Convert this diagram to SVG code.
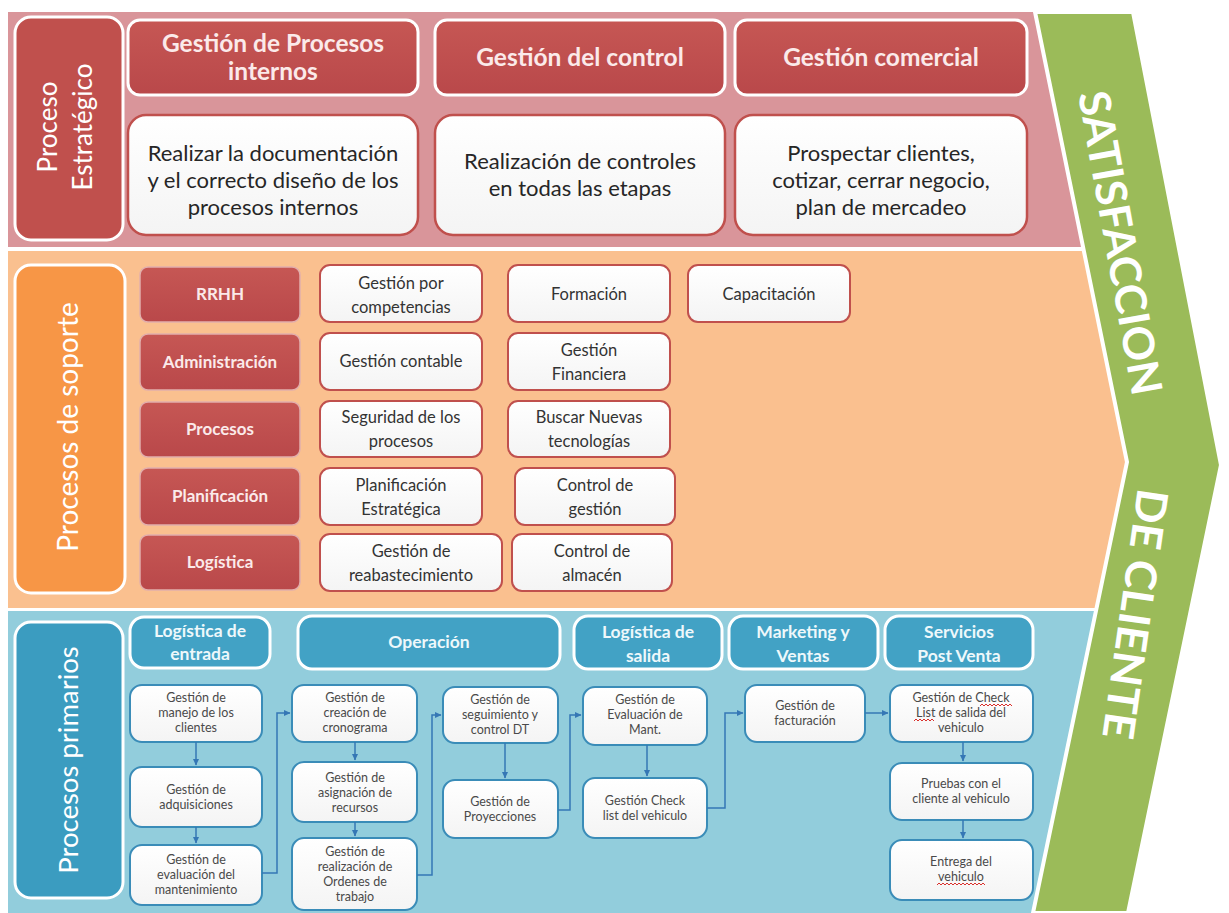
<svg xmlns="http://www.w3.org/2000/svg" width="1229" height="913" viewBox="0 0 1229 913">
  <defs>
    <linearGradient id="paper" x1="0" y1="0" x2="0" y2="1">
      <stop offset="0" stop-color="#ffffff"/>
      <stop offset="1" stop-color="#f4f4f4"/>
    </linearGradient>
    <linearGradient id="redFill" x1="0" y1="0" x2="0" y2="1">
      <stop offset="0" stop-color="#c65754"/>
      <stop offset="1" stop-color="#b9484a"/>
    </linearGradient>
    <marker id="arr" markerWidth="7" markerHeight="7" refX="6" refY="3.5" orient="auto" markerUnits="userSpaceOnUse">
      <path d="M0,0.5 L6.5,3.5 L0,6.5 Z" fill="#3577b5"/>
    </marker>
    <style>
      text { font-family: Lato, "Open Sans", "Liberation Sans", sans-serif; text-anchor: middle; }
      .sideRed { fill: #c0504d; stroke: #ffffff; stroke-width: 3; }
      .sideOrg { fill: #f79646; stroke: #ffffff; stroke-width: 3; }
      .sideBlu { fill: #3b9cc0; stroke: #ffffff; stroke-width: 3; }
      .hdrRed { fill: url(#redFill); stroke: #ffffff; stroke-width: 3; }
      .bodyRed { fill: url(#paper); stroke: #c0504d; stroke-width: 2.5; }
      .tagRed { fill: url(#redFill); stroke: #e2aeac; stroke-width: 1.5; }
      .cellRed { fill: url(#paper); stroke: #c0504d; stroke-width: 2; }
      .hdrBlu { fill: #42a2c5; stroke: #ffffff; stroke-width: 3; }
      .cellBlu { fill: url(#paper); stroke: #3a8cb8; stroke-width: 2; }
      .tHdr { font-size: 24.5px; font-weight: bold; fill: #fbeaea; }
      .tBody { font-size: 22px; fill: #262626; }
      .tTag { font-size: 17px; font-weight: bold; fill: #fbeaea; }
      .tCell { font-size: 16.5px; fill: #333333; }
      .tPh { font-size: 17.5px; font-weight: bold; fill: #eef8fb; }
      .tSm { font-size: 12.5px; fill: #4a4a4a; }
      .tSide { font-size: 26px; fill: #ffffff; }
      .tBig { font-size: 43px; font-weight: bold; fill: #ffffff; }
      .wire { fill: none; stroke: #3577b5; stroke-width: 1.5; marker-end: url(#arr); }
      .squig { fill: none; stroke: #d9302c; stroke-width: 1; }
    </style>
  </defs>

  <rect width="1229" height="913" fill="#ffffff"/>

  <!-- background bands -->
  <g id="bands">
    <polygon points="8,12 1040,12 1088,247 8,247" fill="#d9959a"/>
    <polygon points="8,251 1089,251 1130,462 1097,608 8,608" fill="#fac08f"/>
    <polygon points="8,611 1096,611 1036,913 8,913" fill="#92cddc"/>
  </g>

  <!-- customer-satisfaction chevron -->
  <g id="chevron">
    <polygon points="1035,12 1133,12 1221,465 1128,913 1033,913 1127,462" fill="#9bbb59" stroke="#ffffff" stroke-width="4" stroke-linejoin="miter"/>
    <text class="tBig" transform="translate(1120,243) rotate(79.8)" y="15" textLength="308" lengthAdjust="spacingAndGlyphs">SATISFACCION</text>
    <text class="tBig" transform="translate(1135,614) rotate(98.2)" y="15" textLength="252" lengthAdjust="spacingAndGlyphs">DE CLIENTE</text>
  </g>

  <!-- strategic processes -->
  <g id="estrategico">
    <rect class="sideRed" x="15" y="17" width="108" height="223" rx="16"/>
    <text class="tSide" transform="translate(68,127) rotate(-90)"><tspan x="0" y="-11">Proceso</tspan><tspan x="0" y="24">Estratégico</tspan></text>
  </g>
  <g id="gestion-procesos">
    <rect class="hdrRed" x="128" y="20" width="290" height="75" rx="12"/>
    <text class="tHdr"><tspan x="273" y="52">Gestión de Procesos</tspan><tspan x="273" y="80">internos</tspan></text>
  </g>
  <g id="gestion-control">
    <rect class="hdrRed" x="435" y="20" width="290" height="75" rx="12"/>
    <text class="tHdr" x="580" y="66">Gestión del control</text>
  </g>
  <g id="gestion-comercial">
    <rect class="hdrRed" x="735" y="20" width="292" height="75" rx="12"/>
    <text class="tHdr" x="881" y="66">Gestión comercial</text>
  </g>
  <g id="doc-procesos">
    <rect class="bodyRed" x="128" y="115" width="290" height="120" rx="18"/>
    <text class="tBody"><tspan x="273" y="161">Realizar la documentación</tspan><tspan x="273" y="188">y el correcto diseño de los</tspan><tspan x="273" y="215">procesos internos</tspan></text>
  </g>
  <g id="controles">
    <rect class="bodyRed" x="435" y="115" width="290" height="120" rx="18"/>
    <text class="tBody"><tspan x="580" y="169">Realización de controles</tspan><tspan x="580" y="196">en todas las etapas</tspan></text>
  </g>
  <g id="prospectar">
    <rect class="bodyRed" x="735" y="115" width="292" height="120" rx="18"/>
    <text class="tBody"><tspan x="881" y="161">Prospectar clientes,</tspan><tspan x="881" y="188">cotizar, cerrar negocio,</tspan><tspan x="881" y="215">plan de mercadeo</tspan></text>
  </g>

  <!-- support processes -->
  <g id="soporte">
    <rect class="sideOrg" x="15" y="265" width="110" height="328" rx="16"/>
    <text class="tSide" style="font-size:28px" transform="translate(68,427) rotate(-90)" x="0" y="10">Procesos de soporte</text>
  </g>
  <g id="rrhh">
    <rect class="tagRed" x="140" y="267" width="160" height="55" rx="8"/>
    <text class="tTag" x="220" y="300">RRHH</text>
  </g>
  <g id="administracion">
    <rect class="tagRed" x="140" y="334" width="160" height="56" rx="8"/>
    <text class="tTag" x="220" y="368">Administración</text>
  </g>
  <g id="procesos">
    <rect class="tagRed" x="140" y="402" width="160" height="55" rx="8"/>
    <text class="tTag" x="220" y="435">Procesos</text>
  </g>
  <g id="planificacion">
    <rect class="tagRed" x="140" y="468" width="160" height="57" rx="8"/>
    <text class="tTag" x="220" y="502">Planificación</text>
  </g>
  <g id="logistica">
    <rect class="tagRed" x="140" y="535" width="160" height="55" rx="8"/>
    <text class="tTag" x="220" y="568">Logística</text>
  </g>

  <g id="gestion-competencias">
    <rect class="cellRed" x="320" y="265" width="162" height="57" rx="10"/>
    <text class="tCell"><tspan x="401" y="289">Gestión por</tspan><tspan x="401" y="313">competencias</tspan></text>
  </g>
  <g id="formacion">
    <rect class="cellRed" x="508" y="265" width="162" height="57" rx="10"/>
    <text class="tCell" x="589" y="300">Formación</text>
  </g>
  <g id="capacitacion">
    <rect class="cellRed" x="688" y="265" width="162" height="57" rx="10"/>
    <text class="tCell" x="769" y="300">Capacitación</text>
  </g>
  <g id="gestion-contable">
    <rect class="cellRed" x="320" y="333" width="162" height="57" rx="10"/>
    <text class="tCell" x="401" y="367">Gestión contable</text>
  </g>
  <g id="gestion-financiera">
    <rect class="cellRed" x="508" y="333" width="162" height="57" rx="10"/>
    <text class="tCell"><tspan x="589" y="356">Gestión</tspan><tspan x="589" y="380">Financiera</tspan></text>
  </g>
  <g id="seguridad-procesos">
    <rect class="cellRed" x="320" y="401" width="162" height="56" rx="10"/>
    <text class="tCell"><tspan x="401" y="423">Seguridad de los</tspan><tspan x="401" y="447">procesos</tspan></text>
  </g>
  <g id="nuevas-tecnologias">
    <rect class="cellRed" x="508" y="401" width="162" height="56" rx="10"/>
    <text class="tCell"><tspan x="589" y="423">Buscar Nuevas</tspan><tspan x="589" y="447">tecnologías</tspan></text>
  </g>
  <g id="planificacion-estrategica">
    <rect class="cellRed" x="320" y="468" width="162" height="57" rx="10"/>
    <text class="tCell"><tspan x="401" y="491">Planificación</tspan><tspan x="401" y="515">Estratégica</tspan></text>
  </g>
  <g id="control-gestion">
    <rect class="cellRed" x="515" y="468" width="160" height="57" rx="10"/>
    <text class="tCell"><tspan x="595" y="491">Control de</tspan><tspan x="595" y="515">gestión</tspan></text>
  </g>
  <g id="reabastecimiento">
    <rect class="cellRed" x="320" y="534" width="182" height="57" rx="10"/>
    <text class="tCell"><tspan x="411" y="557">Gestión de</tspan><tspan x="411" y="581">reabastecimiento</tspan></text>
  </g>
  <g id="control-almacen">
    <rect class="cellRed" x="512" y="534" width="160" height="57" rx="10"/>
    <text class="tCell"><tspan x="592" y="557">Control de</tspan><tspan x="592" y="581">almacén</tspan></text>
  </g>

  <!-- primary processes -->
  <g id="primarios">
    <rect class="sideBlu" x="15" y="622" width="108" height="276" rx="16"/>
    <text class="tSide" style="font-size:27.5px" transform="translate(68,760) rotate(-90)" x="0" y="10">Procesos primarios</text>
  </g>
  <g id="logistica-entrada">
    <rect class="hdrBlu" x="130" y="617" width="140" height="51" rx="14"/>
    <text class="tPh"><tspan x="200" y="637">Logística de</tspan><tspan x="200" y="660">entrada</tspan></text>
  </g>
  <g id="operacion">
    <rect class="hdrBlu" x="298" y="616" width="262" height="53" rx="14"/>
    <text class="tPh" x="429" y="648">Operación</text>
  </g>
  <g id="logistica-salida">
    <rect class="hdrBlu" x="574" y="616" width="148" height="53" rx="14"/>
    <text class="tPh"><tspan x="648" y="638">Logística de</tspan><tspan x="648" y="662">salida</tspan></text>
  </g>
  <g id="marketing-ventas">
    <rect class="hdrBlu" x="729" y="616" width="149" height="53" rx="14"/>
    <text class="tPh"><tspan x="803" y="638">Marketing y</tspan><tspan x="803" y="662">Ventas</tspan></text>
  </g>
  <g id="post-venta">
    <rect class="hdrBlu" x="885" y="616" width="148" height="53" rx="14"/>
    <text class="tPh"><tspan x="959" y="638">Servicios</tspan><tspan x="959" y="662">Post Venta</tspan></text>
  </g>

  <g id="manejo-clientes">
    <rect class="cellBlu" x="130" y="685" width="132" height="57" rx="12"/>
    <text class="tSm"><tspan x="196" y="702">Gestión de</tspan><tspan x="196" y="717">manejo de los</tspan><tspan x="196" y="732">clientes</tspan></text>
  </g>
  <g id="adquisiciones">
    <rect class="cellBlu" x="130" y="767" width="132" height="60" rx="12"/>
    <text class="tSm"><tspan x="196" y="794">Gestión de</tspan><tspan x="196" y="809">adquisiciones</tspan></text>
  </g>
  <g id="evaluacion-mantenimiento">
    <rect class="cellBlu" x="130" y="845" width="132" height="60" rx="12"/>
    <text class="tSm"><tspan x="196" y="864">Gestión de</tspan><tspan x="196" y="879">evaluación del</tspan><tspan x="196" y="894">mantenimiento</tspan></text>
  </g>
  <g id="cronograma">
    <rect class="cellBlu" x="292" y="685" width="125" height="57" rx="12"/>
    <text class="tSm"><tspan x="355" y="702">Gestión de</tspan><tspan x="355" y="717">creación de</tspan><tspan x="355" y="732">cronograma</tspan></text>
  </g>
  <g id="asignacion-recursos">
    <rect class="cellBlu" x="292" y="762" width="125" height="60" rx="12"/>
    <text class="tSm"><tspan x="355" y="782">Gestión de</tspan><tspan x="355" y="797">asignación de</tspan><tspan x="355" y="812">recursos</tspan></text>
  </g>
  <g id="ordenes-trabajo">
    <rect class="cellBlu" x="292" y="838" width="125" height="72" rx="12"/>
    <text class="tSm"><tspan x="355" y="856">Gestión de</tspan><tspan x="355" y="871">realización de</tspan><tspan x="355" y="886">Ordenes de</tspan><tspan x="355" y="901">trabajo</tspan></text>
  </g>
  <g id="seguimiento-dt">
    <rect class="cellBlu" x="443" y="687" width="115" height="56" rx="12"/>
    <text class="tSm"><tspan x="500" y="704">Gestión de</tspan><tspan x="500" y="719">seguimiento y</tspan><tspan x="500" y="734">control DT</tspan></text>
  </g>
  <g id="proyecciones">
    <rect class="cellBlu" x="443" y="780" width="115" height="58" rx="12"/>
    <text class="tSm"><tspan x="500" y="806">Gestión de</tspan><tspan x="500" y="821">Proyecciones</tspan></text>
  </g>
  <g id="evaluacion-mant">
    <rect class="cellBlu" x="583" y="687" width="124" height="58" rx="12"/>
    <text class="tSm"><tspan x="645" y="704">Gestión de</tspan><tspan x="645" y="719">Evaluación de</tspan><tspan x="645" y="734">Mant.</tspan></text>
  </g>
  <g id="check-list">
    <rect class="cellBlu" x="583" y="778" width="124" height="60" rx="12"/>
    <text class="tSm"><tspan x="645" y="805">Gestión Check</tspan><tspan x="645" y="820">list del vehiculo</tspan></text>
  </g>
  <g id="facturacion">
    <rect class="cellBlu" x="745" y="685" width="120" height="57" rx="12"/>
    <text class="tSm"><tspan x="805" y="710">Gestión de</tspan><tspan x="805" y="725">facturación</tspan></text>
  </g>
  <g id="check-salida">
    <rect class="cellBlu" x="890" y="685" width="143" height="57" rx="12"/>
    <text class="tSm"><tspan x="961" y="702">Gestión de Check</tspan><tspan x="961" y="717">List de salida del</tspan><tspan x="961" y="732">vehiculo</tspan></text>
    <path class="squig" d="M980,706 l2,-2 l2,2 l2,-2 l2,2 l2,-2 l2,2 l2,-2 l2,2 l2,-2 l2,2 l2,-2 l2,2 l2,-2 l2,2 l2,-2 l2,2"/>
    <path class="squig" d="M914,721 l2,-2 l2,2 l2,-2 l2,2 l2,-2 l2,2 l2,-2 l2,2 l2,-2 l2,2"/>
  </g>
  <g id="pruebas">
    <rect class="cellBlu" x="890" y="763" width="143" height="57" rx="12"/>
    <text class="tSm"><tspan x="961" y="788">Pruebas con el</tspan><tspan x="961" y="803">cliente al vehiculo</tspan></text>
  </g>
  <g id="entrega">
    <rect class="cellBlu" x="890" y="840" width="143" height="60" rx="12"/>
    <text class="tSm"><tspan x="961" y="866">Entrega del</tspan><tspan x="961" y="881">vehiculo</tspan></text>
    <path class="squig" d="M937,885 l2,-2 l2,2 l2,-2 l2,2 l2,-2 l2,2 l2,-2 l2,2 l2,-2 l2,2 l2,-2 l2,2 l2,-2 l2,2 l2,-2 l2,2 l2,-2 l2,2 l2,-2 l2,2 l2,-2 l2,2 l2,-2 l2,2"/>
  </g>

  <!-- flow connectors -->
  <g id="connectors">
    <path class="wire" d="M196,742 V765"/>
    <path class="wire" d="M196,827 V843"/>
    <path class="wire" d="M262,873 H277 V713 H290"/>
    <path class="wire" d="M355,742 V760"/>
    <path class="wire" d="M355,822 V836"/>
    <path class="wire" d="M417,875 H432 V715 H441"/>
    <path class="wire" d="M505,743 V778"/>
    <path class="wire" d="M558,810 H570 V715 H581"/>
    <path class="wire" d="M647,745 V776"/>
    <path class="wire" d="M707,808 H725 V713 H743"/>
    <path class="wire" d="M865,713 H888"/>
    <path class="wire" d="M963,742 V761"/>
    <path class="wire" d="M963,820 V838"/>
  </g>
</svg>
